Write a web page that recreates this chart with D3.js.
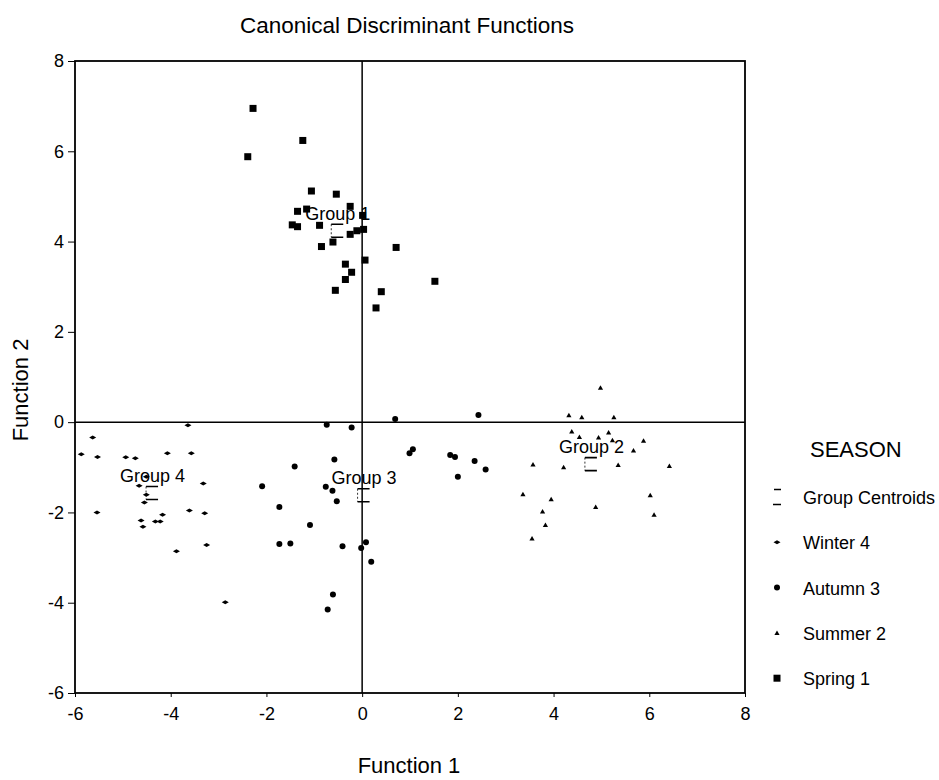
<!DOCTYPE html>
<meta charset="utf-8">
<html>
    <head>
        <style>
            body { margin: 0; background: #fff; }
            text { font-family: Arial, "Liberation Sans", Helvetica, sans-serif; fill: #000; }
        </style>
        <script src="https://d3js.org/d3.v7.min.js"></script>
    </head>
    <body>
        <script>

            // Discriminant scores, [function 1, function 2]
            var spring = [[-2.28, 6.95], [-1.24, 6.24], [-2.39, 5.88], [-1.06, 5.12], [-0.54, 5.05],
                [-1.35, 4.67], [-1.16, 4.72], [-0.25, 4.78], [0.01, 4.58], [-1.46, 4.37],
                [-1.35, 4.33], [-0.89, 4.36], [-0.25, 4.16], [-0.11, 4.24], [0.03, 4.27],
                [-0.61, 3.99], [-0.85, 3.89], [0.71, 3.87], [0.06, 3.59], [-0.35, 3.50],
                [-0.22, 3.32], [-0.35, 3.16], [-0.56, 2.92], [0.40, 2.89], [0.29, 2.53],
                [1.52, 3.12]];

            var summer = [[4.98, 0.76], [4.32, 0.15], [4.59, 0.11], [5.26, 0.11], [4.38, -0.21],
                [4.94, -0.34], [5.15, -0.23], [5.23, -0.40], [4.54, -0.33], [5.88, -0.41],
                [5.67, -0.63], [3.57, -0.94], [4.21, -1.00], [5.35, -0.95], [6.42, -0.97],
                [3.36, -1.60], [3.95, -1.71], [4.88, -1.88], [6.02, -1.62], [3.77, -1.98],
                [6.10, -2.05], [3.83, -2.28], [3.55, -2.58]];

            var autumn = [[-0.74, -0.06], [-0.22, -0.12], [0.69, 0.07], [2.43, 0.16], [0.99, -0.69],
                [1.06, -0.60], [1.84, -0.73], [1.94, -0.77], [2.35, -0.86], [2.58, -1.05],
                [2.00, -1.21], [-1.41, -0.98], [-0.58, -0.83], [-2.09, -1.42], [-0.76, -1.43],
                [-0.62, -1.52], [-0.53, -1.75], [-1.73, -1.88], [-1.09, -2.28], [-1.73, -2.70],
                [-1.50, -2.69], [-0.41, -2.75], [-0.02, -2.79], [0.08, -2.66], [0.19, -3.09],
                [-0.61, -3.82], [-0.72, -4.15]];

            var winter = [[-5.87, -0.71], [-5.63, -0.34], [-5.53, -0.77], [-4.94, -0.78], [-4.74, -0.80],
                [-4.07, -0.69], [-3.64, -0.07], [-3.57, -0.69], [-3.32, -1.36], [-4.66, -1.41],
                [-4.51, -1.61], [-4.55, -1.78], [-5.54, -2.00], [-4.62, -2.18], [-4.58, -2.32],
                [-4.32, -2.20], [-4.22, -2.20], [-4.17, -2.05], [-3.61, -1.96], [-3.29, -2.02],
                [-3.88, -2.86], [-3.25, -2.72], [-2.86, -3.99], [-4.51, -1.21]];

            // Group centroids
            var centroidNames = ["Group 1", "Group 2", "Group 3", "Group 4"];
            var centroidX = [-0.52, 4.78, 0.03, -4.39];
            var centroidY = [4.24, -0.93, -1.62, -1.57];

            var legendLabels = ["Group Centroids", "Winter 4", "Autumn 3", "Summer 2", "Spring 1"];
            var xTicks = [-6, -4, -2, 0, 2, 4, 6, 8];
            var yTicks = [-6, -4, -2, 0, 2, 4, 6, 8];

            var width = 939, height = 780;

            var svg = d3.select("body")
                .append("svg")
                .attr("width", width)
                .attr("height", height);

            // Scales
            var x = d3.scaleLinear().domain([-6, 8]).range([75, 745]);
            var y = d3.scaleLinear().domain([-6, 8]).range([693, 61]);

            // plain hyphen for negative ticks, like the original
            var tickFmt = function(d) { return String(d); };

            // Marker shapes
            var shapes = {
                spring: function(g) {
                    g.append("rect").attr("x", -3.5).attr("y", -3.5).attr("width", 7).attr("height", 7);
                },
                autumn: function(g) {
                    g.append("circle").attr("r", 3);
                },
                winter: function(g) {
                    g.append("path").attr("d", "M-3.5,0L0,-2L3.5,0L0,2Z");
                },
                summer: function(g) {
                    g.append("path").attr("d", "M0,-2.5L2.6,2L-2.6,2Z");
                }
            };

            function centroidMark(g) {
                g.append("path")
                    .attr("d", "M-6,-6.5H6M-6,6.5H6")
                    .attr("stroke", "#000")
                    .attr("stroke-width", 1.6)
                    .attr("fill", "none");
                g.append("path")
                    .attr("d", "M-6,-6.5V6.5")
                    .attr("stroke", "#000")
                    .attr("stroke-width", 0.8)
                    .attr("stroke-dasharray", "2,2")
                    .attr("fill", "none");
            }

            // Title
            svg.append("text")
                .attr("x", 407)
                .attr("y", 33)
                .attr("text-anchor", "middle")
                .style("font-size", "22.5px")
                .text("Canonical Discriminant Functions");

            // Axes
            svg.append("g")
                .attr("transform", "translate(0," + y(-6) + ")")
                .call(d3.axisBottom(x).tickValues(xTicks).tickSize(4).tickPadding(10).tickFormat(tickFmt))
                .call(function(g) { g.select(".domain").remove(); })
                .call(function(g) {
                    g.selectAll("line").attr("stroke-width", 1);
                    g.selectAll("text").style("font-size", "18px").attr("font-family", null);
                });

            svg.append("g")
                .attr("transform", "translate(" + x(-6) + ",0)")
                .call(d3.axisLeft(y).tickValues(yTicks).tickSize(7).tickPadding(4).tickFormat(tickFmt))
                .call(function(g) { g.select(".domain").remove(); })
                .call(function(g) {
                    g.selectAll("line").attr("stroke-width", 1);
                    g.selectAll("text").style("font-size", "18px").attr("font-family", null);
                });

            // Frame and zero lines
            svg.append("rect")
                .attr("x", x(-6))
                .attr("y", y(8))
                .attr("width", x(8) - x(-6))
                .attr("height", y(-6) - y(8))
                .attr("fill", "none")
                .attr("stroke", "#000")
                .attr("stroke-width", 1.8);

            svg.append("line")
                .attr("x1", x(-6)).attr("x2", x(8))
                .attr("y1", y(0)).attr("y2", y(0))
                .attr("stroke", "#000").attr("stroke-width", 1.5);

            svg.append("line")
                .attr("x1", x(0)).attr("x2", x(0))
                .attr("y1", y(8)).attr("y2", y(-6))
                .attr("stroke", "#000").attr("stroke-width", 1.5);

            // Axis titles
            svg.append("text")
                .attr("x", 409)
                .attr("y", 773)
                .attr("text-anchor", "middle")
                .style("font-size", "22px")
                .text("Function 1");

            svg.append("text")
                .attr("transform", "translate(28,390) rotate(-90)")
                .attr("text-anchor", "middle")
                .style("font-size", "22px")
                .text("Function 2");

            // Points
            var groups = [["winter", winter], ["autumn", autumn], ["summer", summer], ["spring", spring]];
            groups.forEach(function(s) {
                svg.append("g")
                    .attr("class", s[0])
                    .selectAll("g")
                    .data(s[1])
                    .enter().append("g")
                    .attr("transform", function(d) { return "translate(" + x(d[0]) + "," + y(d[1]) + ")"; })
                    .each(function() { shapes[s[0]](d3.select(this)); });
            });

            // Centroids and their labels
            var cg = svg.append("g")
                .selectAll("g")
                .data(centroidNames)
                .enter().append("g")
                .attr("transform", function(d, i) { return "translate(" + x(centroidX[i]) + "," + y(centroidY[i]) + ")"; });

            cg.each(function() { centroidMark(d3.select(this)); });

            cg.append("text")
                .attr("x", -32)
                .attr("y", -11)
                .style("font-size", "18px")
                .text(function(d) { return d; });

            // Legend
            var legend = svg.append("g").attr("transform", "translate(780,0)");

            legend.append("text")
                .attr("x", 30)
                .attr("y", 457)
                .style("font-size", "22px")
                .text("SEASON");

            var legendKeys = ["centroid", "winter", "autumn", "summer", "spring"];
            var item = legend.selectAll(".item")
                .data(legendLabels)
                .enter().append("g")
                .attr("class", "item")
                .attr("transform", function(d, i) { return "translate(0," + (504 + i * 45.3) + ")"; });

            item.each(function(d, i) {
                var m = d3.select(this).append("g").attr("transform", "translate(-3,-7)");
                if (legendKeys[i] == "centroid") {
                    m.append("path")
                        .attr("d", "M-3,-7.5H4M-4,7.5H4")
                        .attr("stroke", "#000")
                        .attr("stroke-width", 1.5);
                } else {
                    shapes[legendKeys[i]](m);
                }
            });

            item.append("text")
                .attr("x", 23)
                .attr("y", 0)
                .style("font-size", "18px")
                .text(function(d) { return d; });

        </script>
    </body>
</html>
